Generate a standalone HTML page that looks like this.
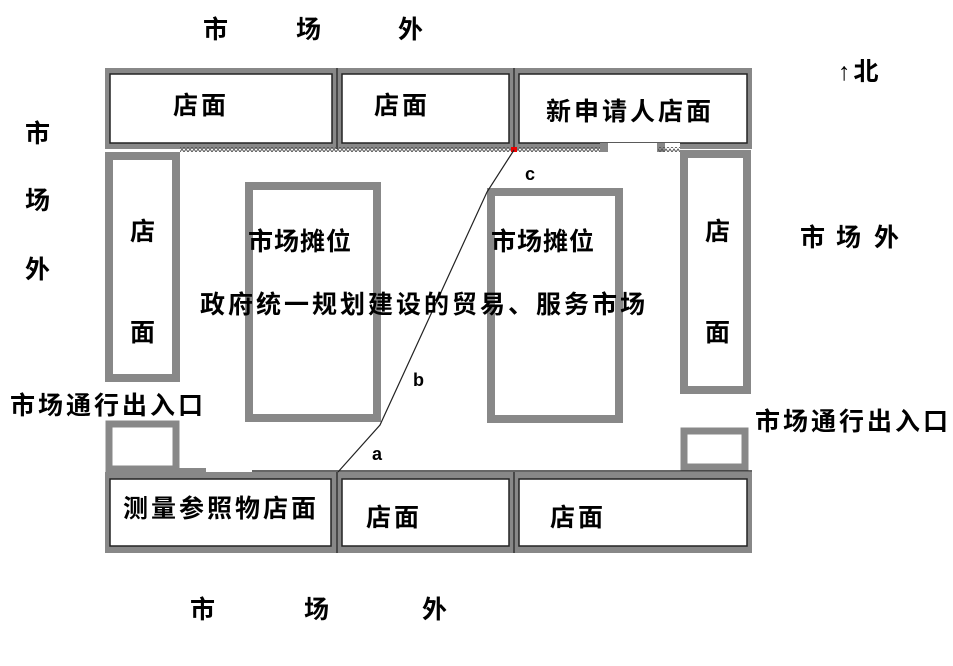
<!DOCTYPE html>
<html><head><meta charset="utf-8"><style>
body{margin:0;background:#fff}
svg text{font-family:"Liberation Sans","Noto Sans CJK SC",sans-serif;font-weight:bold;fill:#000}
.c{letter-spacing:3px}
</style></head><body>
<svg width="953" height="661" xmlns="http://www.w3.org/2000/svg">
<defs><pattern id="h" width="4" height="4" patternUnits="userSpaceOnUse"><path d="M0 4 L2 1 L4 4" stroke="#555" fill="none" stroke-width="1"/></pattern></defs>
<rect x="105" y="68" width="647" height="81" fill="#888"/>
<rect x="110" y="74" width="222" height="69" fill="#fff" stroke="#222" stroke-width="1.5"/>
<rect x="342" y="74" width="167" height="69" fill="#fff" stroke="#222" stroke-width="1.5"/>
<rect x="519" y="74" width="228" height="69" fill="#fff" stroke="#222" stroke-width="1.5"/>
<line x1="337" y1="68" x2="337" y2="149" stroke="#333" stroke-width="1.5"/>
<line x1="514" y1="68" x2="514" y2="149" stroke="#333" stroke-width="1.5"/>
<rect x="600" y="143" width="80" height="8" fill="#fff"/>
<rect x="180" y="147" width="428" height="5" fill="url(#h)"/>
<rect x="600" y="143" width="8" height="9" fill="#888"/>
<rect x="657" y="143" width="8" height="9" fill="#888"/>
<rect x="658" y="147" width="22" height="5" fill="url(#h)"/>
<rect x="511" y="147" width="6" height="5" fill="#e00"/>
<rect x="109" y="156" width="67" height="222" fill="#fff" stroke="#888" stroke-width="8"/>
<rect x="684" y="154" width="63" height="236" fill="#fff" stroke="#888" stroke-width="8"/>
<rect x="109" y="424" width="67" height="45" fill="#fff" stroke="#888" stroke-width="7"/>
<rect x="684" y="431" width="61" height="36" fill="#fff" stroke="#888" stroke-width="7"/>
<rect x="249" y="186" width="128" height="232" fill="none" stroke="#888" stroke-width="8"/>
<rect x="491" y="192" width="128" height="227" fill="none" stroke="#888" stroke-width="8"/>
<rect x="105" y="472" width="647" height="81" fill="#888"/>
<rect x="110" y="479" width="221" height="67" fill="#fff" stroke="#222" stroke-width="1.5"/>
<rect x="342" y="479" width="167" height="67" fill="#fff" stroke="#222" stroke-width="1.5"/>
<rect x="519" y="479" width="228" height="67" fill="#fff" stroke="#222" stroke-width="1.5"/>
<line x1="337" y1="472" x2="337" y2="553" stroke="#333" stroke-width="1.5"/>
<line x1="514" y1="472" x2="514" y2="553" stroke="#333" stroke-width="1.5"/>
<rect x="176" y="468" width="30" height="5" fill="#888"/>
<rect x="206" y="466" width="46" height="6" fill="#fff"/>
<line x1="252" y1="471" x2="752" y2="471" stroke="#333" stroke-width="1.5"/>
<polyline points="338,472 380,425 487,192 514,150" fill="none" stroke="#222" stroke-width="1.2"/>
<g font-size="25" class="c">
<text x="203" y="38">市</text><text x="296" y="38">场</text><text x="398" y="38">外</text>
<text x="190" y="618">市</text><text x="304" y="618">场</text><text x="422" y="618">外</text>
<text x="25" y="142">市</text><text x="25" y="209">场</text><text x="25" y="278">外</text>
<text x="800" y="246">市</text><text x="836" y="246">场</text><text x="874" y="246">外</text>
<text x="838" y="80">↑北</text>
<text x="173" y="114">店面</text><text x="374" y="114">店面</text><text x="546" y="120">新申请人店面</text>
<text x="130" y="240">店</text><text x="130" y="341">面</text>
<text x="705" y="240">店</text><text x="705" y="341">面</text>
<text x="248" y="250" style="letter-spacing:1px">市场摊位</text><text x="491" y="250" style="letter-spacing:1px">市场摊位</text>
<text x="200" y="313">政府统一规划建设的贸易、服务市场</text>
<text x="10" y="414">市场通行出入口</text><text x="755" y="430">市场通行出入口</text>
<text x="123" y="517">测量参照物店面</text><text x="366" y="526">店面</text><text x="550" y="526">店面</text>
</g>
<g font-size="18"><text x="372" y="460">a</text><text x="413" y="386">b</text><text x="525" y="180">c</text></g>
</svg>
</body></html>
